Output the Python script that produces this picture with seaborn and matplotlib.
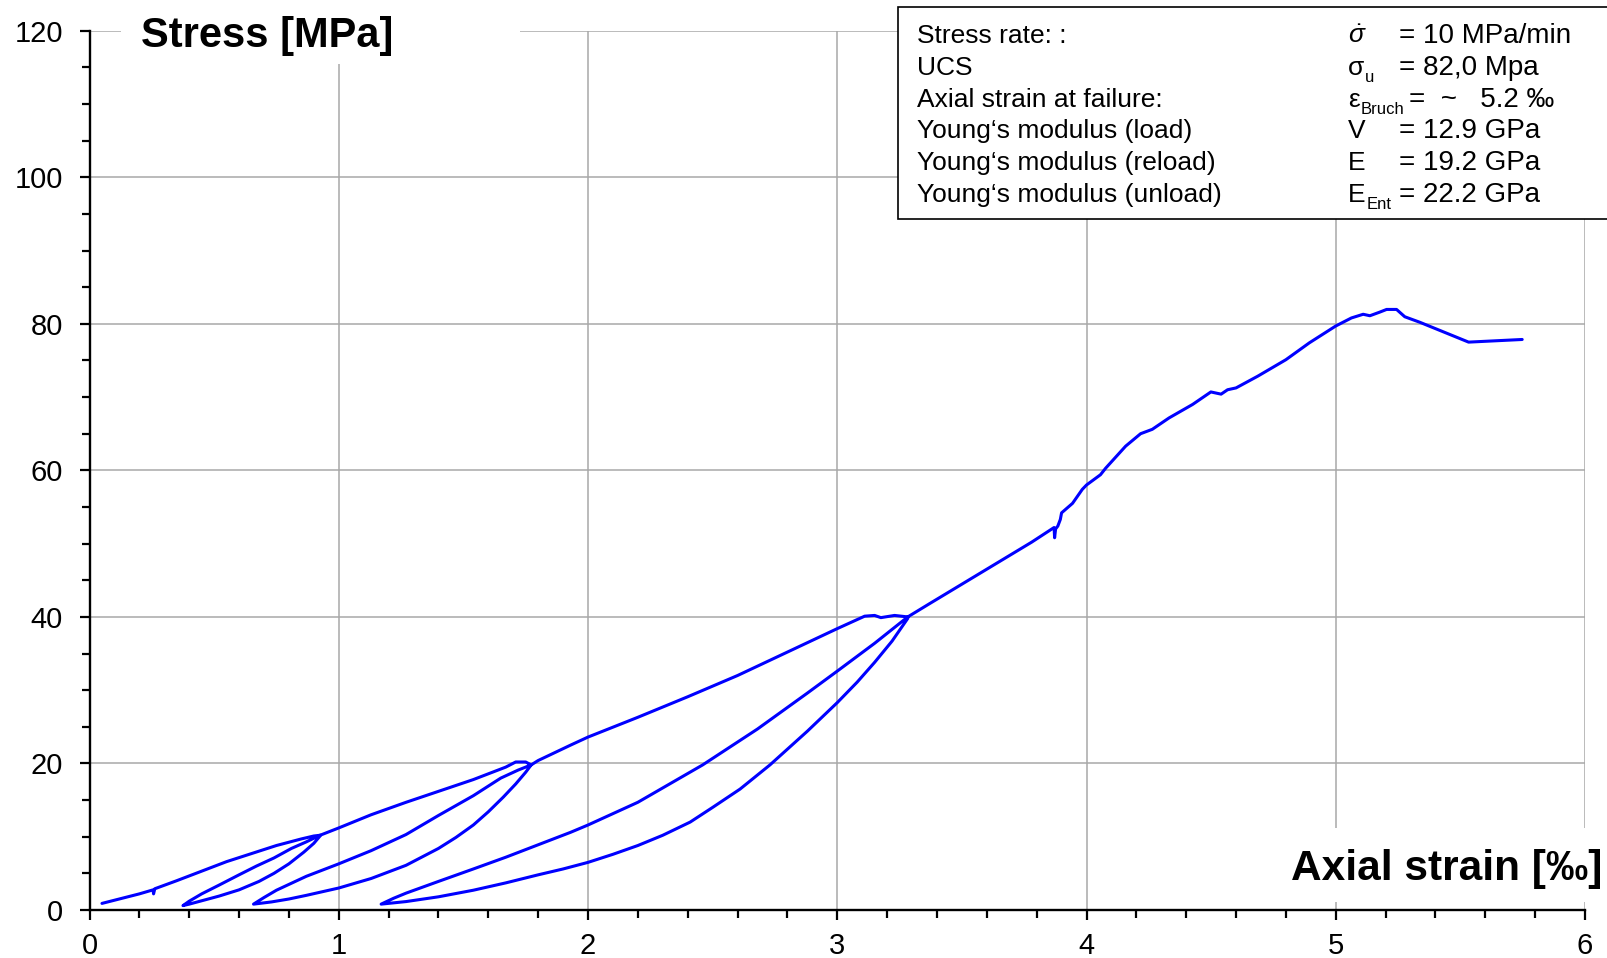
import numpy as np
import pandas as pd
import matplotlib
matplotlib.use("Agg")
import matplotlib.pyplot as plt
from matplotlib.patches import Rectangle
from matplotlib.ticker import MultipleLocator
import seaborn as sns

# --- data: axial strain [permille] vs stress [MPa] ---
# cycle 1: first loading up to ~10 MPa
load1_x = [0.05, 0.12, 0.20, 0.255, 0.257, 0.262, 0.35, 0.45, 0.55, 0.65, 0.75, 0.85, 0.90, 0.925]
load1_y = [0.9, 1.5, 2.2, 2.75, 2.2, 2.9, 4.0, 5.3, 6.6, 7.7, 8.8, 9.7, 10.1, 10.2]
unload1_x = [0.925, 0.90, 0.86, 0.80, 0.74, 0.68, 0.60, 0.52, 0.45, 0.40, 0.375]
unload1_y = [10.1, 9.1, 7.9, 6.3, 5.0, 3.9, 2.75, 1.9, 1.25, 0.8, 0.6]
reload1_x = [0.375, 0.40, 0.45, 0.52, 0.60, 0.67, 0.74, 0.81, 0.87, 0.925]
reload1_y = [0.6, 1.2, 2.2, 3.4, 4.8, 6.0, 7.1, 8.4, 9.3, 10.2]

# cycle 2: up to ~20 MPa
load2_x = [0.925, 1.0, 1.13, 1.27, 1.40, 1.54, 1.67, 1.71, 1.75, 1.772]
load2_y = [10.2, 11.2, 13.0, 14.7, 16.2, 17.8, 19.5, 20.2, 20.2, 19.8]
unload2_x = [1.772, 1.75, 1.71, 1.66, 1.60, 1.54, 1.47, 1.40, 1.27, 1.13, 1.0, 0.87, 0.80, 0.73, 0.658]
unload2_y = [19.8, 18.8, 17.2, 15.4, 13.4, 11.6, 9.9, 8.4, 6.1, 4.3, 3.0, 2.0, 1.5, 1.1, 0.8]
reload2_x = [0.658, 0.70, 0.75, 0.87, 1.0, 1.13, 1.27, 1.40, 1.54, 1.65, 1.72, 1.772]
reload2_y = [0.8, 1.7, 2.7, 4.6, 6.3, 8.1, 10.3, 12.9, 15.6, 18.0, 19.1, 19.8]

# cycle 3: up to ~40 MPa
load3_x = [1.772, 1.80, 1.93, 2.0, 2.2, 2.4, 2.6, 2.8, 3.0, 3.11, 3.15, 3.175, 3.23, 3.283]
load3_y = [19.8, 20.4, 22.5, 23.6, 26.3, 29.1, 32.0, 35.2, 38.4, 40.1, 40.2, 39.9, 40.2, 40.0]
unload3_x = [3.283, 3.22, 3.15, 3.08, 3.0, 2.88, 2.73, 2.61, 2.5, 2.41, 2.3, 2.2, 2.1, 2.0,
             1.9, 1.8, 1.67, 1.54, 1.40, 1.27, 1.17]
unload3_y = [39.8, 36.7, 33.8, 31.1, 28.3, 24.4, 19.8, 16.5, 14.0, 12.0, 10.2, 8.8, 7.6, 6.5,
             5.6, 4.8, 3.7, 2.7, 1.8, 1.15, 0.8]
reload3_x = [1.17, 1.22, 1.27, 1.40, 1.54, 1.67, 1.80, 1.93, 2.0, 2.2, 2.46, 2.68, 2.88, 3.0, 3.15, 3.283]
reload3_y = [0.8, 1.6, 2.3, 3.9, 5.6, 7.2, 8.9, 10.6, 11.6, 14.7, 19.8, 24.7, 29.6, 32.6, 36.4, 40.0]

# final loading to failure
load4_x = [3.283, 3.37, 3.57, 3.78, 3.870, 3.872, 3.876, 3.885, 3.895, 3.90, 3.944, 3.983, 4.0,
           4.056, 4.077, 4.157, 4.217, 4.264, 4.331, 4.426, 4.499, 4.54, 4.566, 4.60, 4.687,
           4.80, 4.894, 5.0, 5.063, 5.11, 5.137, 5.177, 5.204, 5.244, 5.277, 5.338, 5.533, 5.748]
load4_y = [40.0, 41.8, 45.9, 50.2, 52.2, 50.8, 52.0, 52.4, 53.3, 54.2, 55.5, 57.4, 58.0,
           59.4, 60.3, 63.3, 65.0, 65.6, 67.15, 69.0, 70.7, 70.4, 71.0, 71.25, 72.85,
           75.1, 77.4, 79.7, 80.8, 81.3, 81.1, 81.6, 81.96, 81.96, 80.96, 80.2, 77.5, 77.86]

x_ticks = [0, 1, 2, 3, 4, 5, 6]
y_ticks = [0, 20, 40, 60, 80, 100, 120]

info_labels = ["Stress rate: :", "UCS", "Axial strain at failure:",
               "Young‘s modulus (load)", "Young‘s modulus (reload)", "Young‘s modulus (unload)"]
info_symbols = [r"$\dot{\sigma}$", "σ", "ε", "V", "E", "E"]
info_subs = ["", "u", "Bruch", "", "", "Ent"]
info_values = ["= 10 MPa/min", "= 82,0 Mpa", "=  ~   5.2 ‰", "= 12.9 GPa", "= 19.2 GPa", "= 22.2 GPa"]

segments_x = [load1_x, unload1_x, reload1_x, load2_x, unload2_x, reload2_x,
              load3_x, unload3_x, reload3_x, load4_x]
segments_y = [load1_y, unload1_y, reload1_y, load2_y, unload2_y, reload2_y,
              load3_y, unload3_y, reload3_y, load4_y]
df = pd.DataFrame({"strain": np.concatenate(segments_x), "stress": np.concatenate(segments_y)})

# --- style ---
sns.set_theme(style="white")
plt.rcParams["font.family"] = ["Liberation Sans", "DejaVu Sans"]
plt.rcParams["mathtext.fontset"] = "custom"
plt.rcParams["mathtext.rm"] = "Liberation Sans"
plt.rcParams["mathtext.it"] = "Liberation Sans:italic"
for key in ["text.color", "axes.labelcolor", "xtick.color", "ytick.color"]:
    plt.rcParams[key] = "black"

W, H = 1607, 958
fig = plt.figure(figsize=(W / 100, H / 100), dpi=100, facecolor="white")
ax = fig.add_axes([89.5 / W, 48 / H, (1585 - 89.5) / W, (910 - 30.7) / H])

sns.lineplot(data=df, x="strain", y="stress", sort=False, estimator=None,
             color="#0000ff", linewidth=2.2, ax=ax)

ax.set_xlim(0, 6)
ax.set_ylim(0, 120)
ax.set_xticks(x_ticks)
ax.set_yticks(y_ticks)
ax.xaxis.set_minor_locator(MultipleLocator(0.2))
ax.yaxis.set_minor_locator(MultipleLocator(5))
ax.set_xlabel("")
ax.set_ylabel("")
ax.grid(True, which="major", color="#a8a8a8", linewidth=1.1)
ax.set_axisbelow(True)
for side in ["top", "right"]:
    ax.spines[side].set_visible(False)
for side in ["left", "bottom"]:
    ax.spines[side].set_color("black")
    ax.spines[side].set_linewidth(1.7)
ax.tick_params(which="both", bottom=True, left=True, direction="out", width=1.6, color="black")
ax.tick_params(which="major", length=7, labelsize=21, labelcolor="black")
ax.tick_params(which="minor", length=5.5)
ax.tick_params(axis="y", which="major", pad=12)
ax.tick_params(axis="x", which="major", pad=9)

# axis titles sitting on white patches inside the plot
fig.add_artist(Rectangle((121 / W, 1 - 64 / H), (520 - 121) / W, 64 / H, transform=fig.transFigure,
                         facecolor="white", edgecolor="none", zorder=5))
fig.text(141 / W, 1 - 47 / H, "Stress [MPa]", fontsize=30, fontweight="bold",
         ha="left", va="baseline", zorder=6)
fig.add_artist(Rectangle((1270 / W, 1 - 902 / H), (1607 - 1270) / W, (902 - 828) / H,
                         transform=fig.transFigure, facecolor="white", edgecolor="none", zorder=5))
fig.text(1602 / W, 1 - 880 / H, "Axial strain [‰]", fontsize=30.5, fontweight="bold",
         ha="right", va="baseline", zorder=6)

# info box
fig.add_artist(Rectangle((898 / W, 1 - 219 / H), (1620 - 898) / W, (219 - 7) / H, transform=fig.transFigure,
                         facecolor="white", edgecolor="black", linewidth=1.2, zorder=5))
renderer = fig.canvas.get_renderer()
baselines = [43.3, 75, 106.7, 138.3, 170, 201.7]
for lab, sym, sub, val, b in zip(info_labels, info_symbols, info_subs, info_values, baselines):
    fig.text(917 / W, 1 - b / H, lab, fontsize=19, ha="left", va="baseline", zorder=6)
    t = fig.text(1348 / W, 1 - b / H, sym, fontsize=19, ha="left", va="baseline", zorder=6)
    x_val = 1399
    if sub:
        x_end = t.get_window_extent(renderer).x1
        s = fig.text((x_end + 0.5) / W, 1 - (b + 7) / H, sub, fontsize=12, ha="left",
                     va="baseline", zorder=6)
        x_val = max(x_val, s.get_window_extent(renderer).x1 + 5)
    fig.text(x_val / W, 1 - b / H, val, fontsize=20, ha="left", va="baseline", zorder=6)

fig.savefig("out.png", dpi=100, facecolor="white")
